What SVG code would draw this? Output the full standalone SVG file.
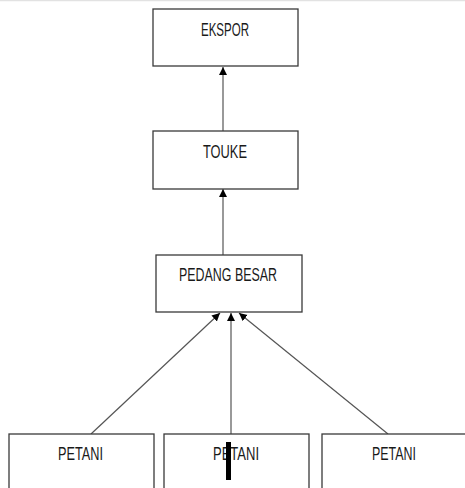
<svg xmlns="http://www.w3.org/2000/svg" width="465" height="488" viewBox="0 0 465 488">
<style>
.box{fill:#fff;stroke:#3a3a3a;stroke-width:1.3}
.lbl{font-family:"Liberation Sans","Open Sans",sans-serif;font-size:19px;fill:#1a1a1a;text-anchor:middle}
.con{stroke:#555;stroke-width:1.2;fill:none}
</style>
<defs>
<marker id="ah" viewBox="0 0 8 10" refX="8" refY="5" markerWidth="8" markerHeight="10" markerUnits="userSpaceOnUse" orient="auto">
<path d="M0,1 L8,5 L0,9 Z" fill="#000"/>
</marker>
</defs>
<rect width="465" height="488" fill="#fff"/>
<line x1="0" y1="0.5" x2="465" y2="0.5" stroke="#e2e2e2" stroke-width="1.5"/>
<g id="connectors">
<line class="con" x1="223" y1="131" x2="223" y2="67" marker-end="url(#ah)"/>
<line class="con" x1="223" y1="255" x2="223" y2="189" marker-end="url(#ah)"/>
<line class="con" x1="91" y1="434" x2="220" y2="313" marker-end="url(#ah)"/>
<line class="con" x1="231" y1="434" x2="231" y2="313" marker-end="url(#ah)"/>
<line class="con" x1="388" y1="434" x2="239" y2="313" marker-end="url(#ah)"/>
</g>
<g id="ekspor">
<rect class="box" x="153" y="9" width="145" height="57"/>
<text class="lbl" x="225" y="35.5" textLength="48" lengthAdjust="spacingAndGlyphs">EKSPOR</text>
</g>
<g id="touke">
<rect class="box" x="153" y="131" width="145" height="58"/>
<text class="lbl" x="225" y="157.5" textLength="44" lengthAdjust="spacingAndGlyphs">TOUKE</text>
</g>
<g id="pedang-besar">
<rect class="box" x="156" y="255" width="146" height="57"/>
<text class="lbl" x="228" y="280.5" textLength="98" lengthAdjust="spacingAndGlyphs">PEDANG BESAR</text>
</g>
<g id="petani1">
<rect class="box" x="9" y="434" width="145" height="70"/>
<text class="lbl" x="80.5" y="459.5" textLength="45" lengthAdjust="spacingAndGlyphs">PETANI</text>
</g>
<g id="petani2">
<rect class="box" x="164" y="434" width="145" height="70"/>
<text class="lbl" x="236" y="459.5" textLength="46" lengthAdjust="spacingAndGlyphs">PETANI</text>
</g>
<g id="petani3">
<rect class="box" x="322" y="434" width="160" height="70"/>
<text class="lbl" x="394" y="459.5" textLength="44" lengthAdjust="spacingAndGlyphs">PETANI</text>
</g>
<rect x="226" y="442" width="5" height="38" fill="#000"/>
</svg>
